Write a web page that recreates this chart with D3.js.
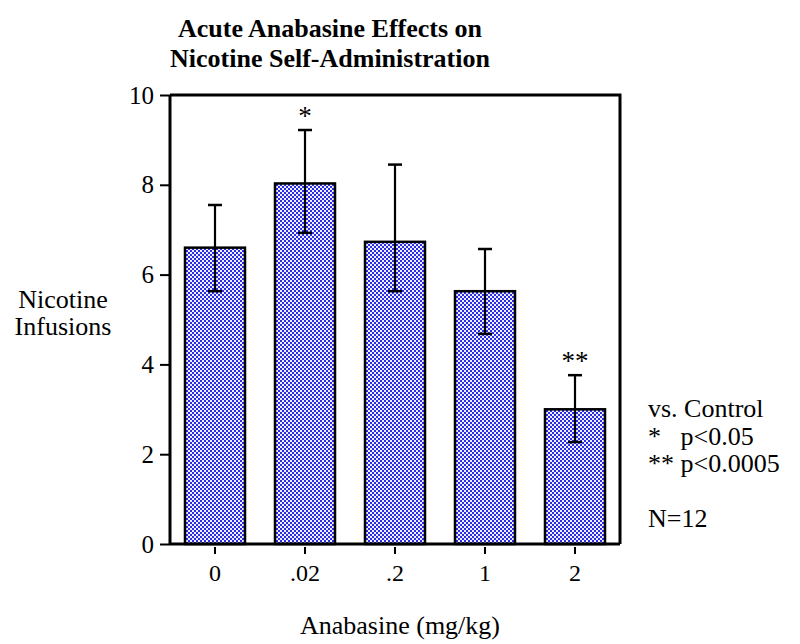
<!DOCTYPE html>
<html><head><meta charset="utf-8">
<script src="https://cdn.jsdelivr.net/npm/d3@7"></script>
<style>body{margin:0;background:#fff}svg{display:block}</style>
</head><body>
<svg id="c" width="800" height="644"></svg>
<script>
const categories = ["0", ".02", ".2", "1", "2"];
const means = [6.6, 8.03, 6.73, 5.63, 3.0];
const errUpper = [7.55, 9.22, 8.45, 6.57, 3.76];
const errLower = [5.63, 6.93, 5.63, 4.68, 2.27];
const marks = ["", "*", "", "", "**"];
const yTicks = [0, 2, 4, 6, 8, 10];
const titleLines = ["Acute Anabasine Effects on", "Nicotine Self-Administration"];
const yLabelLines = ["Nicotine", "Infusions"];
const xLabel = "Anabasine (mg/kg)";
const notes = ["vs. Control", "*   p<0.05", "** p<0.0005", "", "N=12"];

const FONT = "'Liberation Serif', 'DejaVu Serif', serif";
const svg = d3.select("#c");
const L = 170, R = 620, T = 95, B = 544;

const defs = svg.append("defs");
const pat = defs.append("pattern").attr("id","chk").attr("width",4).attr("height",4).attr("patternUnits","userSpaceOnUse");
pat.append("rect").attr("width",4).attr("height",4).attr("fill","#eef0ff");
pat.append("rect").attr("width",2).attr("height",2).attr("fill","#2c2ce6");
pat.append("rect").attr("x",2).attr("y",2).attr("width",2).attr("height",2).attr("fill","#2c2ce6");

const x = d3.scaleBand().domain(categories).range([L, R]).paddingInner(1/3).paddingOuter(1/6);
const y = d3.scaleLinear().domain([0, 10]).range([B, T]);

svg.append("path").attr("d", `M${L},${T}H${R}V${B}`).attr("fill","none").attr("stroke","#000").attr("stroke-width",3);

const g = svg.append("g");
categories.forEach((c, i) => {
  g.append("rect").attr("x", x(c)).attr("y", y(means[i])).attr("width", x.bandwidth()).attr("height", y(0) - y(means[i]))
    .attr("fill","url(#chk)").attr("stroke","#000").attr("stroke-width",2.5);
  const cx = Math.round(x(c) + x.bandwidth()/2);
  const hi = y(errUpper[i]), lo = y(errLower[i]);
  g.append("line").attr("x1",cx).attr("x2",cx).attr("y1",hi).attr("y2",lo).attr("stroke","#000").attr("stroke-width",2.2);
  g.append("line").attr("x1",cx-7).attr("x2",cx+7).attr("y1",hi).attr("y2",hi).attr("stroke","#000").attr("stroke-width",2.5);
  g.append("line").attr("x1",cx-7).attr("x2",cx+7).attr("y1",lo).attr("y2",lo).attr("stroke","#000").attr("stroke-width",2.5);
  if (marks[i]) g.append("text").attr("x",cx).attr("y",hi-5).attr("text-anchor","middle").style("font-family",FONT).attr("font-size",27).text(marks[i]);
});

const ya = svg.append("g").attr("transform",`translate(${L},0)`)
  .call(d3.axisLeft(y).tickValues(yTicks).tickSize(10).tickPadding(6).tickFormat(d3.format("d")));
ya.attr("font-family", null);
ya.select(".domain").attr("stroke-width",3).attr("d",`M0,${T}V${B}`);
ya.selectAll(".tick line").attr("stroke-width",2);
ya.selectAll(".tick text").attr("font-size",25).style("font-family",FONT);

const xa = svg.append("g").attr("transform",`translate(0,${B})`)
  .call(d3.axisBottom(x).tickSize(10).tickPadding(10));
xa.attr("font-family", null);
xa.select(".domain").attr("stroke-width",3).attr("d",`M${L},0H${R}`);
xa.selectAll(".tick line").attr("stroke-width",2).attr("y1",3);
xa.selectAll(".tick text").attr("font-size",24).style("font-family",FONT);

svg.append("g").selectAll("text").data(titleLines).join("text")
  .attr("x",330).attr("y",(d,i)=>37+i*30).attr("text-anchor","middle").style("font-family",FONT).attr("font-size",26).attr("font-weight","bold").text(d=>d);

svg.append("g").selectAll("text").data(yLabelLines).join("text")
  .attr("x",63).attr("y",(d,i)=>308+i*27).attr("text-anchor","middle").style("font-family",FONT).attr("font-size",26).text(d=>d);

svg.append("text").attr("x",400).attr("y",634).attr("text-anchor","middle").style("font-family",FONT).attr("font-size",26).text(xLabel);

svg.append("g").selectAll("text").data(notes).join("text")
  .attr("x",648).attr("y",(d,i)=>417+i*27.5).style("font-family",FONT).attr("font-size",26).style("white-space","pre").text(d=>d);
</script>
</body></html>
